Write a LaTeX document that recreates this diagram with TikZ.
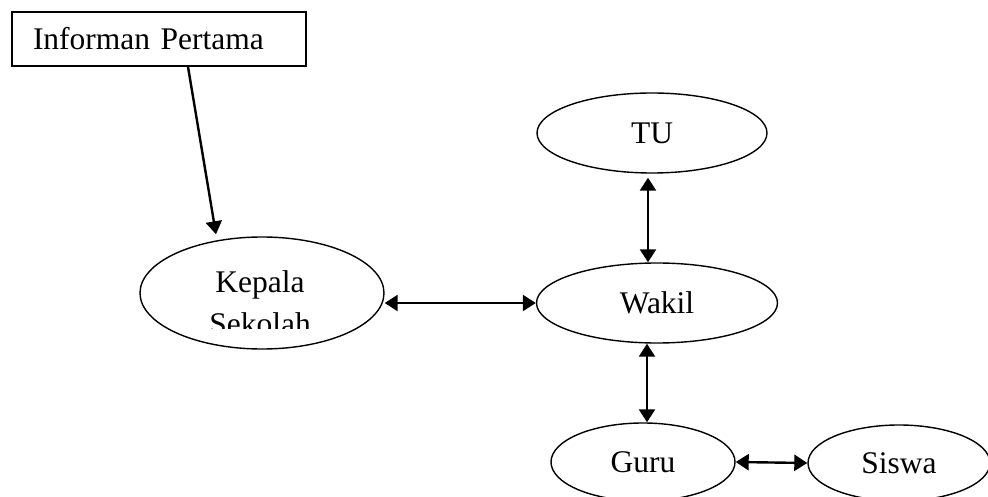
\documentclass[tikz,border=0pt]{standalone}
\usepackage{fontspec}
\setmainfont{Liberation Serif}
\usetikzlibrary{arrows.meta,shapes.geometric}
\begin{document}
\begin{tikzpicture}[x=1pt,y=-1pt,
  font=\fontsize{31.5}{36}\selectfont,
  oval/.style={draw,ellipse,line width=1.4pt,inner sep=0pt},
  link/.style={line width=2.4pt,{Triangle[length=13pt,width=16pt]}-{Triangle[length=13pt,width=16pt]}},
  onelink/.style={line width=2.4pt,-{Triangle[length=13pt,width=16pt]}}]
\clip (0,0) rectangle (988,497);
\useasboundingbox (0,0) rectangle (988,497);
\node[draw,line width=1.6pt,rectangle,inner xsep=21pt,inner ysep=0pt,text width=252pt,minimum height=54pt,align=left] (info) at (159,39) {Informan Pertama};
\node[oval,minimum width=244pt,minimum height=112pt,
  path picture={
    \begin{scope}[shift={(path picture bounding box.center)}]
      \clip (-130,-70) rectangle (130,35);
      \node[anchor=base,inner sep=0pt] (kepalatxt1) at (-2,-1) {Kepala};
      \node[anchor=base,inner sep=0pt] (kepalatxt2) at (-2,41) {Sekolah};
    \end{scope}}] (kepala) at (262,293) {};
\node[oval,minimum width=230pt,minimum height=80pt] (tu) at (652,133) {TU};
\node[oval,minimum width=241pt,minimum height=80pt] (wakil) at (657,303) {Wakil};
\node[oval,minimum width=184pt,minimum height=78pt] (guru) at (643,462) {Guru};
\node[oval,minimum width=182pt,minimum height=76pt] (siswa) at (899,463) {Siswa};
\draw[onelink] ([xshift=29pt]info.south) -- ([xshift=-46pt,yshift=2pt]kepala.north);
\draw[link] (kepala.east |- wakil.west) -- (wakil.west);
\draw[link] ([xshift=-4pt,yshift=-4pt]tu.south) -- ([xshift=-9pt]wakil.north);
\draw[link] ([xshift=-10pt]wakil.south) -- ([xshift=4pt]guru.north);
\draw[link] (guru.east) -- (siswa.west);
\end{tikzpicture}
\end{document}
